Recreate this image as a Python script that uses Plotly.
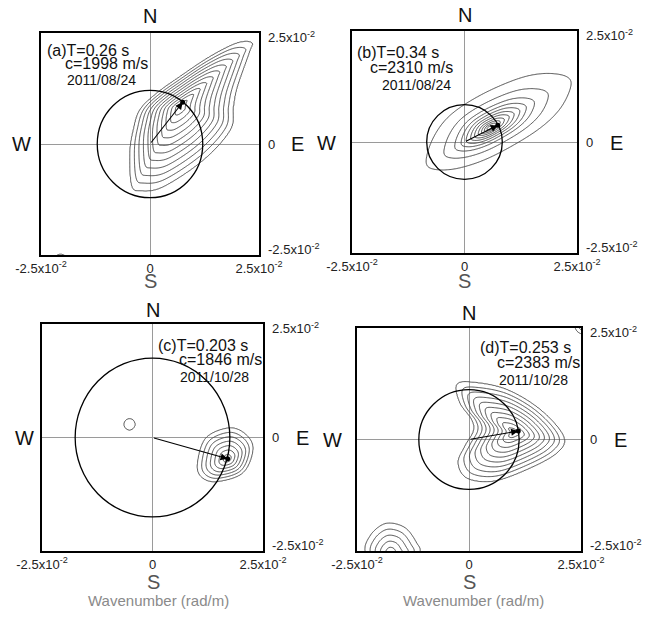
import numpy as np
import plotly.graph_objects as go

# ---------------- data (wavenumber in units of 1e-2 rad/m) ----------------
label_T = ["(a)T=0.26 s", "(b)T=0.34 s", "(c)T=0.203 s", "(d)T=0.253 s"]
label_c = ["c=1998 m/s", "c=2310 m/s", "c=1846 m/s", "c=2383 m/s"]
label_date = ["2011/08/24", "2011/08/24", "2011/10/28", "2011/10/28"]

tick_vals = [-2.5, 0, 2.5]
x_tick_text = ["-2.5x10<sup>-2</sup>", "0", "2.5x10<sup>-2</sup>"]
y_tick_text = ["-2.5x10<sup>-2</sup>", "0", "2.5x10<sup>-2</sup>"]
axis_title = "Wavenumber (rad/m)"

# slowness circle radius (= omega / c) and arrow to the spectral peak
circle_r = [1.21, 0.84, 1.75, 1.12]
arrow_kx = [0.75, 0.74, 1.70, 1.10]
arrow_ky = [0.94, 0.38, -0.47, 0.19]

# ---- panel (a): main peak (outer contour read in order around the peak)
a_peak = [0.69, 0.84]
a_outer_kx = [2.33, 2.27, 2.00, 1.91, 1.84, 1.22, 0.30, -0.23, -0.42, -0.46, -0.38, -0.23, 0.15, 0.69, 1.38, 1.99]
a_outer_ky = [2.28, 2.05, 1.29, 0.84, 0.32, -0.36, -0.96, -1.05, -0.92, -0.21, 0.32, 0.77, 1.14, 1.52, 1.97, 2.27]
a_sizes = [1.0, 0.91, 0.82, 0.73, 0.64, 0.55, 0.46, 0.37, 0.28, 0.19, 0.10]
# panel (a): small corner patch
a2_peak = [-2.05, -2.66]
a2_outer_kx = [-1.87, -1.92, -2.05, -2.18, -2.23, -2.18, -2.05, -1.92]
a2_outer_ky = [-2.66, -2.53, -2.48, -2.53, -2.66, -2.79, -2.84, -2.79]
a2_sizes = [1.0]

# ---- panel (b)
b_peak = [0.56, 0.32]
b_outer_kx = [-0.85, -0.70, -0.33, 0.33, 1.15, 1.75, 2.25, 2.36, 2.10, 1.55, 0.62, -0.10, -0.63]
b_outer_ky = [-0.46, 0.08, 0.59, 1.04, 1.41, 1.54, 1.48, 1.25, 0.72, 0.22, -0.32, -0.58, -0.62]
b_sizes = [1.0, 0.72, 0.55, 0.45, 0.37, 0.30, 0.24, 0.18, 0.13, 0.085, 0.045]

# ---- panel (c)
c_peak = [1.70, -0.47]
c_outer_kx = [1.74, 2.12, 2.27, 2.04, 1.44, 1.10, 1.02, 1.21]
c_outer_ky = [0.21, 0.06, -0.27, -0.78, -0.97, -0.86, -0.56, -0.01]
c_sizes = [1.0, 0.857, 0.714, 0.571, 0.428, 0.286, 0.143]
# panel (c): small isolated contour
c2_peak = [-0.52, 0.29]
c2_outer_kx = [-0.39, -0.43, -0.52, -0.61, -0.65, -0.61, -0.52, -0.43]
c2_outer_ky = [0.29, 0.38, 0.42, 0.38, 0.29, 0.20, 0.16, 0.20]
c2_sizes = [1.0]

# ---- panel (d)
d_peak = [1.01, 0.15]
d_outer_kx = [-0.27, 0.10, 0.84, 1.59, 2.11, 1.96, 1.29, 0.54, -0.05, -0.24, -0.09, 0.10, 0.06, -0.20]
d_outer_ky = [1.23, 1.28, 1.12, 0.67, 0.07, -0.30, -0.67, -0.93, -0.86, -0.52, -0.15, 0.19, 0.45, 0.82]
d_sizes = [1.0, 0.9, 0.8, 0.7, 0.6, 0.5, 0.4, 0.3, 0.2, 0.1]
# panel (d): lower-left patch
d2_peak = [-1.75, -2.55]
d2_outer_kx = [-2.32, -2.20, -1.95, -1.70, -1.40, -1.18, -1.10, -1.40, -1.75, -2.10]
d2_outer_ky = [-2.50, -2.15, -1.92, -1.88, -2.00, -2.30, -2.55, -3.00, -3.20, -3.00]
d2_sizes = [1.0, 0.8, 0.6, 0.4, 0.2]
# panel (d): upper-right corner patch
d3_peak = [2.56, 2.56]
d3_outer_kx = [2.36, 2.42, 2.56, 2.70, 2.76, 2.70, 2.56, 2.42]
d3_outer_ky = [2.56, 2.42, 2.36, 2.42, 2.56, 2.70, 2.76, 2.70]
d3_sizes = [1.0, 0.6]

panel_blobs = [
    [(a_peak, a_outer_kx, a_outer_ky, a_sizes), (a2_peak, a2_outer_kx, a2_outer_ky, a2_sizes)],
    [(b_peak, b_outer_kx, b_outer_ky, b_sizes)],
    [(c_peak, c_outer_kx, c_outer_ky, c_sizes), (c2_peak, c2_outer_kx, c2_outer_ky, c2_sizes)],
    [(d_peak, d_outer_kx, d_outer_ky, d_sizes), (d2_peak, d2_outer_kx, d2_outer_ky, d2_sizes),
     (d3_peak, d3_outer_kx, d3_outer_ky, d3_sizes)],
]

# ---------------- layout geometry (pixels of the 654x617 page) ----------------
W, H = 654, 617
boxes = [(41, 33, 259, 255), (352, 31, 577, 253), (42, 324, 263, 551), (357, 328, 581, 551)]
FONT = "Liberation Sans, Arial, sans-serif"

grid = np.linspace(-2.5, 2.5, 281)
GX, GY = np.meshgrid(grid, grid)


def closed_spline(px, py, m=40):
    """Periodic Catmull-Rom curve through the read outline points."""
    P = np.column_stack([px, py]).astype(float)
    n = len(P)
    out = []
    t = np.linspace(0, 1, m, endpoint=False)[:, None]
    for i in range(n):
        p0, p1, p2, p3 = P[(i - 1) % n], P[i], P[(i + 1) % n], P[(i + 2) % n]
        seg = 0.5 * ((2 * p1) + (-p0 + p2) * t + (2 * p0 - 5 * p1 + 4 * p2 - p3) * t ** 2
                     + (-p0 + 3 * p1 - 3 * p2 + p3) * t ** 3)
        out.append(seg)
    out = np.vstack(out)
    return out[:, 0], out[:, 1]


def level_field(peak, okx, oky, sizes):
    cx, cy = peak
    sx, sy = closed_spline(okx, oky)
    ang = np.arctan2(sy - cy, sx - cx)
    rad = np.hypot(sx - cx, sy - cy)
    o = np.argsort(ang)
    ang, rad = ang[o], rad[o]
    a_ext = np.concatenate([ang - 2 * np.pi, ang, ang + 2 * np.pi])
    r_ext = np.concatenate([rad, rad, rad])
    TH = np.arctan2(GY - cy, GX - cx)
    R = np.interp(TH, a_ext, r_ext)
    rho = np.hypot(GX - cx, GY - cy) / R
    f = sorted(sizes)
    n = len(f)
    xp = [0.0] + f + [4.0]
    fp = [n + 0.6] + list(range(n, 0, -1)) + [-6.0]
    z = np.interp(rho, xp, fp)
    return z.astype(np.float32), n


fig = go.Figure()
shapes = []
annotations = []


def P(x, y):
    return x / W, 1 - y / H


ytick_shift = [6, 0, -4]
for i in range(4):
    s = "" if i == 0 else str(i + 1)
    xa, ya = "x" + s, "y" + s
    x0, y0, x1, y1 = boxes[i]
    fig.update_layout(**{
        "xaxis" + s: dict(domain=[x0 / W, x1 / W], range=[-2.5, 2.5], anchor=ya, automargin=False,
                          tickvals=tick_vals, ticktext=x_tick_text, ticks="",
                          showline=True, mirror=True, linecolor="black", linewidth=2,
                          showgrid=False, zeroline=True, zerolinecolor="#9a9a9a", zerolinewidth=1,
                          tickfont=dict(family=FONT, size=13, color="#222"), fixedrange=True),
        "yaxis" + s: dict(domain=[1 - y1 / H, 1 - y0 / H], range=[-2.5, 2.5], anchor=xa, side="right",
                          automargin=False, showticklabels=False, ticks="",
                          showline=True, mirror=True, linecolor="black", linewidth=2,
                          showgrid=False, zeroline=True, zerolinecolor="#9a9a9a", zerolinewidth=1,
                          fixedrange=True),
    })
    # right-hand tick labels
    for v, t, sh in zip(tick_vals, y_tick_text, ytick_shift):
        annotations.append(dict(x=1, y=v, xref=xa + " domain", yref=ya, text=t, showarrow=False,
                                xanchor="left", yanchor="middle", xshift=7, yshift=sh,
                                font=dict(family=FONT, size=13, color="#222")))

    for (peak, okx, oky, sizes) in panel_blobs[i]:
        z, n = level_field(peak, okx, oky, sizes)
        fig.add_trace(go.Contour(
            x=grid, y=grid, z=z, xaxis=xa, yaxis=ya,
            contours=dict(start=1, end=n, size=1, coloring="lines"),
            colorscale=[[0, "#4a4a4a"], [1, "#4a4a4a"]], showscale=False,
            line=dict(width=1, smoothing=1.0), hoverinfo="skip"))

    r = circle_r[i]
    shapes.append(dict(type="circle", xref=xa, yref=ya, x0=-r, x1=r, y0=-r, y1=r,
                       line=dict(color="black", width=1.3)))

    # arrow from origin to peak
    annotations.append(dict(x=arrow_kx[i], y=arrow_ky[i], xref=xa, yref=ya,
                            ax=0, ay=0, axref=xa, ayref=ya, text="", showarrow=True,
                            arrowhead=2, arrowsize=1.3, arrowwidth=1.1, arrowcolor="black",
                            standoff=0, startstandoff=0))
    fig.add_trace(go.Scatter(x=[arrow_kx[i]], y=[arrow_ky[i]], xaxis=xa, yaxis=ya, mode="markers",
                             marker=dict(color="black", size=5), hoverinfo="skip", showlegend=False))

# ---------------- text ----------------
text_pos = [  # (T line left x, y), (c line left x, y), (date left x, y)
    [(45, 50), (63, 63.5), (65, 80)],
    [(355, 53), (368, 67), (380, 85)],
    [(156, 345), (177, 360), (178, 377)],
    [(478, 348), (495, 362), (497, 380)],
]
for i in range(4):
    for (txt, (px, py), size) in zip([label_T[i], label_c[i], label_date[i]], text_pos[i], [16, 16, 14]):
        x, y = P(px, py)
        annotations.append(dict(x=x, y=y, xref="paper", yref="paper", text=txt, showarrow=False,
                                xanchor="left", yanchor="middle",
                                font=dict(family=FONT, size=size, color="#111")))

compass = [
    dict(N=(150, 16), S=(150, 281), W=(22, 144), E=(297, 144)),
    dict(N=(465, 15), S=(465, 281), W=(326, 143), E=(616, 143)),
    dict(N=(153, 310), S=(153, 582), W=(24, 438), E=(302, 438)),
    dict(N=(469, 313), S=(469, 582), W=(333, 440), E=(620, 440)),
]
for c in compass:
    for lab, (px, py) in c.items():
        x, y = P(px, py)
        annotations.append(dict(x=x, y=y, xref="paper", yref="paper", text=lab, showarrow=False,
                                xanchor="center", yanchor="middle",
                                font=dict(family=FONT, size=20, color="#555" if lab == "S" else "#111")))

for px in (158, 473):
    x, y = P(px, 600)
    annotations.append(dict(x=x, y=y, xref="paper", yref="paper", text=axis_title, showarrow=False,
                            xanchor="center", yanchor="middle",
                            font=dict(family=FONT, size=15, color="#8a8a8a")))

fig.update_layout(width=W, height=H, autosize=False, margin=dict(l=0, r=0, t=0, b=0),
                  paper_bgcolor="white", plot_bgcolor="white", showlegend=False,
                  hovermode=False, shapes=shapes, annotations=annotations)

fig.write_html("out.html", config={"displayModeBar": False},
               post_script="document.body.style.margin='0px';")
